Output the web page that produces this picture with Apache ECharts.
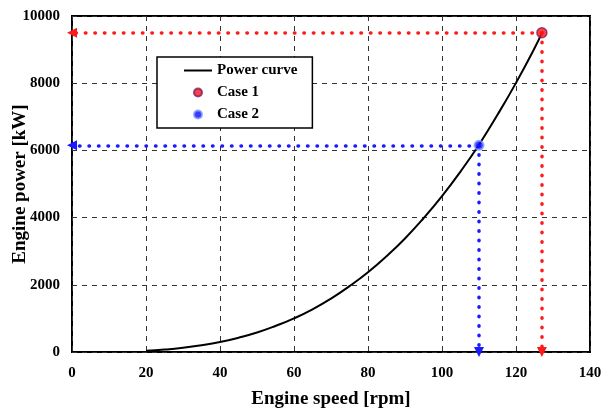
<!DOCTYPE html>
<html>
<head>
<meta charset="utf-8">
<script src="https://cdn.jsdelivr.net/npm/echarts@6/dist/echarts.min.js"></script>
<style>
  html, body { margin: 0; padding: 0; background: #fff; }
  #chart { width: 603px; height: 413px; }
</style>
</head>
<body>
<div id="chart"></div>
<script>
// engine speed [rpm] and power [kW]
var speed = [20, 25, 30, 35, 40, 45, 50, 55, 60, 65, 70, 75, 80, 85, 90, 95, 100, 105, 110, 115, 120, 125, 127]
var power = [37, 72, 125, 200, 297, 425, 580, 775, 1000, 1270, 1590, 1960, 2375, 2850, 3380, 3980, 4640, 5370, 6170, 7060, 8010, 9040, 9500]
var case1 = [127, 9500]
var case2 = [110, 6150]
var xTicks = [0, 140, 20]
var yTicks = [0, 10000, 2000]

var font = 'Liberation Serif'
var chart = echarts.init(document.getElementById('chart'))

function guide(pt, color) {
  var style = { color: color, width: 3.5, type: [0.5, 9], cap: 'round' }
  return {
    silent: true,
    symbol: ['none', 'triangle'],
    symbolSize: [10, 10],
    label: { show: false },
    lineStyle: style,
    data: [
      [{ coord: pt }, { coord: [xTicks[0], pt[1]] }],
      [{ coord: pt }, { coord: [pt[0], yTicks[0]] }]
    ]
  }
}

chart.setOption({
  animation: false,
  grid: {
    left: 72,
    right: 13,
    top: 16,
    bottom: 61,
    containLabel: false,
    outerBoundsMode: 'none',
    show: true,
    borderColor: '#000',
    borderWidth: 2
  },
  legend: {
    orient: 'vertical',
    left: 157,
    top: 57,
    backgroundColor: '#fff',
    borderColor: '#000',
    borderWidth: 1.5,
    padding: [6, 15, 6, 26],
    itemGap: 7,
    itemWidth: 28,
    itemHeight: 8,
    textStyle: { fontFamily: font, fontWeight: 'bold', fontSize: 15, color: '#000' },
    data: [{ name: 'Power curve', itemStyle: { opacity: 0 } }, 'Case 1', 'Case 2']
  },
  xAxis: {
    type: 'value',
    min: xTicks[0],
    max: xTicks[1],
    interval: xTicks[2],
    name: 'Engine speed [rpm]',
    nameLocation: 'middle',
    nameGap: 38,
    nameMoveOverlap: false,
    nameTextStyle: { fontFamily: font, fontWeight: 'bold', fontSize: 19, color: '#000' },
    axisLine: { show: false },
    axisTick: { show: false },
    axisLabel: { fontFamily: font, fontWeight: 'bold', fontSize: 15, color: '#000', margin: 14, formatter: function (v) { return String(v) } },
    splitLine: { show: true, lineStyle: { color: '#333', type: [5, 5], width: 1 } }
  },
  yAxis: {
    type: 'value',
    min: yTicks[0],
    max: yTicks[1],
    interval: yTicks[2],
    name: 'Engine power [kW]',
    nameLocation: 'middle',
    nameGap: 42,
    nameMoveOverlap: false,
    nameTextStyle: { fontFamily: font, fontWeight: 'bold', fontSize: 19, color: '#000' },
    axisLine: { show: false },
    axisTick: { show: false },
    axisLabel: { fontFamily: font, fontWeight: 'bold', fontSize: 15, color: '#000', margin: 12, formatter: function (v) { return String(v) } },
    splitLine: { show: true, lineStyle: { color: '#333', type: [5, 5], width: 1 } }
  },
  series: [
    {
      name: 'Power curve',
      type: 'line',
      smooth: true,
      showSymbol: false,
      symbol: 'none',
      itemStyle: { color: '#000' },
      lineStyle: { color: '#000', width: 2 },
      data: speed.map(function (s, i) { return [s, power[i]] }),
      z: 3
    },
    {
      name: 'Case 1',
      type: 'scatter',
      symbolSize: 10,
      itemStyle: { color: '#ff1010', borderColor: '#7a1f6a', borderWidth: 1.5 },
      data: [case1],
      markLine: guide(case1, '#ff1a1a'),
      z: 5
    },
    {
      name: 'Case 2',
      type: 'scatter',
      symbolSize: 9,
      itemStyle: { color: '#0a0aff', borderColor: '#7f9cff', borderWidth: 2 },
      data: [case2],
      markLine: guide(case2, '#1a1aff'),
      z: 5
    }
  ]
})
</script>
</body>
</html>
